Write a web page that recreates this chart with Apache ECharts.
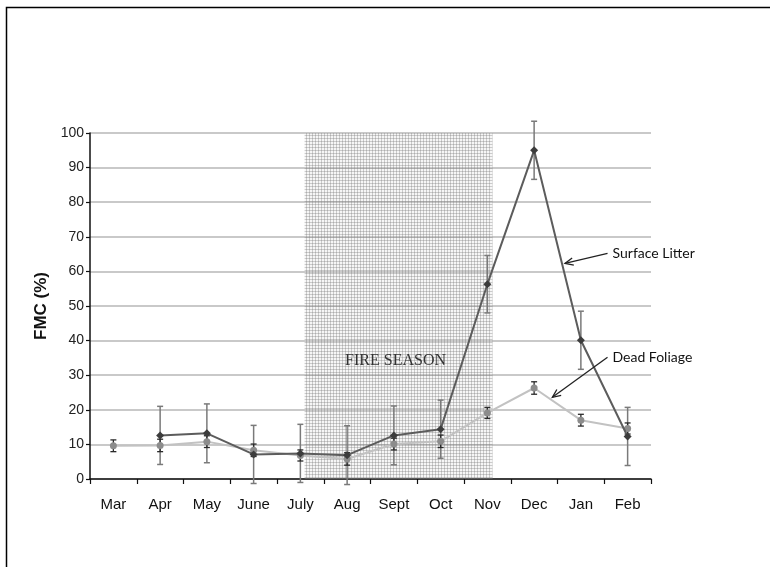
<!DOCTYPE html>
<html>
<head>
<meta charset="utf-8">
<script src="https://cdn.jsdelivr.net/npm/echarts@6/dist/echarts.min.js"></script>
<style>
  html, body { margin: 0; padding: 0; background: #fff; }
  #chart { width: 770px; height: 567px; }
</style>
</head>
<body>
<div id="chart"></div>
<script>
// Monthly fuel moisture content (FMC, %) with error bars
const months = ['Mar', 'Apr', 'May', 'June', 'July', 'Aug', 'Sept', 'Oct', 'Nov', 'Dec', 'Jan', 'Feb'];
const surfaceLitter    = [null, 12.6, 13.2, 7.1, 7.4, 6.9, 12.6, 14.4, 56.3, 95.0, 40.1, 12.3];
const surfaceLitterErr = [null, 8.4, 8.5, 8.4, 8.4, 8.5, 8.5, 8.4, 8.3, 8.4, 8.4, 8.4];
const deadFoliage      = [9.6, 9.7, 10.8, 8.3, 6.8, 5.8, 10.1, 10.9, 19.1, 26.3, 17.0, 14.6];
const deadFoliageErr   = [1.7, 1.8, 1.7, 1.8, 1.6, 1.8, 1.7, 1.8, 1.6, 1.8, 1.7, 1.6];
const yMin = 0, yMax = 100, yStep = 10;
// Fire season span, in month-slot units (0 = start of Mar slot, 12 = end of Feb slot)
const fireSeason = [4.59, 8.61];
const fireSeasonLabel = 'FIRE SEASON';

const chart = echarts.init(document.getElementById('chart'), null, { renderer: 'canvas' });

// dotted cross-hatch texture for the fire season band
const tile = document.createElement('canvas');
tile.width = 3; tile.height = 3;
const tctx = tile.getContext('2d');
tctx.fillStyle = 'rgba(140,140,140,0.45)';
tctx.fillRect(0, 0, 3, 1);
tctx.fillRect(0, 0, 1, 3);
tctx.fillStyle = 'rgba(210,210,210,0.2)';
tctx.fillRect(1, 1, 2, 2);

function errorData(vals, errs) {
  const out = [];
  vals.forEach((v, i) => {
    if (v != null && errs[i] != null) out.push([i, v - errs[i], v + errs[i]]);
  });
  return out;
}

function errorBars(color, capHalf, width) {
  return function (params, api) {
    const i = api.value(0);
    const lo = api.coord([i, api.value(1)]);
    const hi = api.coord([i, api.value(2)]);
    const st = { stroke: color, lineWidth: width };
    return {
      type: 'group',
      children: [
        { type: 'line', shape: { x1: lo[0], y1: lo[1], x2: hi[0], y2: hi[1] }, style: st },
        { type: 'line', shape: { x1: lo[0] - capHalf, y1: lo[1], x2: lo[0] + capHalf, y2: lo[1] }, style: st },
        { type: 'line', shape: { x1: hi[0] - capHalf, y1: hi[1], x2: hi[0] + capHalf, y2: hi[1] }, style: st }
      ]
    };
  };
}

const option = {
  animation: false,
  backgroundColor: '#fff',
  grid: { left: 90, right: 119, top: 133, bottom: 88, containLabel: false },
  xAxis: [
    {
      type: 'category',
      data: months,
      boundaryGap: true,
      axisLine: { lineStyle: { color: '#111', width: 1.5 } },
      axisTick: { show: true, length: 5, alignWithLabel: false, lineStyle: { color: '#111', width: 1.2 } },
      axisLabel: { color: '#111', fontSize: 15, fontFamily: 'Liberation Sans, Arial, sans-serif', margin: 18, interval: 0 },
      splitLine: { show: false }
    },
    { type: 'value', min: 0, max: 12, show: false }
  ],
  yAxis: {
    type: 'value',
    min: yMin, max: yMax, interval: yStep,
    name: 'FMC (%)',
    nameLocation: 'middle',
    nameRotate: 90,
    nameGap: 32,
    nameTextStyle: { color: '#111', fontSize: 17, fontWeight: 'bold', fontFamily: 'Liberation Sans, Arial, sans-serif' },
    axisLine: { show: true, lineStyle: { color: '#111', width: 1.5 } },
    axisTick: { show: true, length: 4, lineStyle: { color: '#111', width: 1.2 } },
    axisLabel: { color: '#222', fontSize: 14, fontFamily: 'Liberation Sans, Arial, sans-serif', margin: 6 },
    splitLine: { show: true, lineStyle: { color: '#c9c9c9', width: 2 } }
  },
  series: [
    {
      name: 'Fire season',
      type: 'custom',
      xAxisIndex: 1,
      yAxisIndex: 0,
      z: 1,
      silent: true,
      data: [[fireSeason[0], fireSeason[1]]],
      renderItem: function (params, api) {
        const a = api.coord([api.value(0), yMax]);
        const b = api.coord([api.value(1), yMin]);
        return {
          type: 'group',
          children: [
            {
              type: 'rect',
              shape: { x: a[0], y: a[1], width: b[0] - a[0], height: b[1] - a[1] },
              style: { fill: { image: tile, repeat: 'repeat' } }
            },
            {
              type: 'text',
              style: {
                text: fireSeasonLabel,
                x: (a[0] + b[0]) / 2 - 3,
                y: api.coord([0, 34.2])[1],
                align: 'center',
                verticalAlign: 'middle',
                fill: '#333',
                font: '16px "Liberation Serif", "Times New Roman", serif'
              }
            }
          ]
        };
      }
    },
    {
      name: 'Surface Litter error',
      type: 'custom',
      z: 3,
      silent: true,
      data: errorData(surfaceLitter, surfaceLitterErr),
      encode: { x: 0, y: [1, 2] },
      renderItem: errorBars('#7a7a7a', 3, 1.5)
    },
    {
      name: 'Dead Foliage error',
      type: 'custom',
      z: 3,
      silent: true,
      data: errorData(deadFoliage, deadFoliageErr),
      encode: { x: 0, y: [1, 2] },
      renderItem: errorBars('#2a2a2a', 3, 1.3)
    },
    {
      name: 'Dead Foliage',
      type: 'line',
      z: 4,
      data: deadFoliage,
      symbol: 'circle',
      symbolSize: 7,
      lineStyle: { color: '#c2c2c2', width: 2 },
      itemStyle: { color: '#8c8c8c' },
      connectNulls: false
    },
    {
      name: 'Surface Litter',
      type: 'line',
      z: 5,
      data: surfaceLitter,
      symbol: 'diamond',
      symbolSize: 8,
      lineStyle: { color: '#5c5c5c', width: 2 },
      itemStyle: { color: '#3c3c3c' },
      connectNulls: false
    }
  ]
};

chart.setOption(option);

// callout labels with arrows, positioned in data units (month slots, FMC %)
const callouts = [
  { text: 'Surface Litter', from: [11.07, 65.2], tip: [10.16, 62.3] },
  { text: 'Dead Foliage',   from: [11.07, 35.2], tip: [9.89, 23.6] }
];

function toPx(x, y) {
  return [chart.convertToPixel({ xAxisIndex: 1 }, x), chart.convertToPixel({ yAxisIndex: 0 }, y)];
}

const graphics = [
  {
    type: 'rect',
    shape: { x: 6.5, y: 7.5, width: 820, height: 620 },
    style: { fill: 'none', stroke: '#000', lineWidth: 1.5 },
    silent: true,
    z: 100
  }
];

callouts.forEach(c => {
  const s = toPx(c.from[0], c.from[1]);
  const t = toPx(c.tip[0], c.tip[1]);
  const ang = Math.atan2(t[1] - s[1], t[0] - s[0]);
  const len = 9, spread = 0.42;
  const h1 = [t[0] - len * Math.cos(ang - spread), t[1] - len * Math.sin(ang - spread)];
  const h2 = [t[0] - len * Math.cos(ang + spread), t[1] - len * Math.sin(ang + spread)];
  graphics.push({
    type: 'line', z: 50, silent: true,
    shape: { x1: s[0], y1: s[1], x2: t[0], y2: t[1] },
    style: { stroke: '#222', lineWidth: 1.3 }
  });
  graphics.push({
    type: 'polyline', z: 50, silent: true,
    shape: { points: [h1, t, h2] },
    style: { stroke: '#222', lineWidth: 1.3, fill: 'none' }
  });
  graphics.push({
    type: 'text', z: 50, silent: true,
    style: {
      text: c.text,
      x: s[0] + 5, y: s[1],
      align: 'left', verticalAlign: 'middle',
      fill: '#111',
      font: '14px Lato, "Open Sans", sans-serif'
    }
  });
});

chart.setOption({ graphic: graphics });
</script>
</body>
</html>
